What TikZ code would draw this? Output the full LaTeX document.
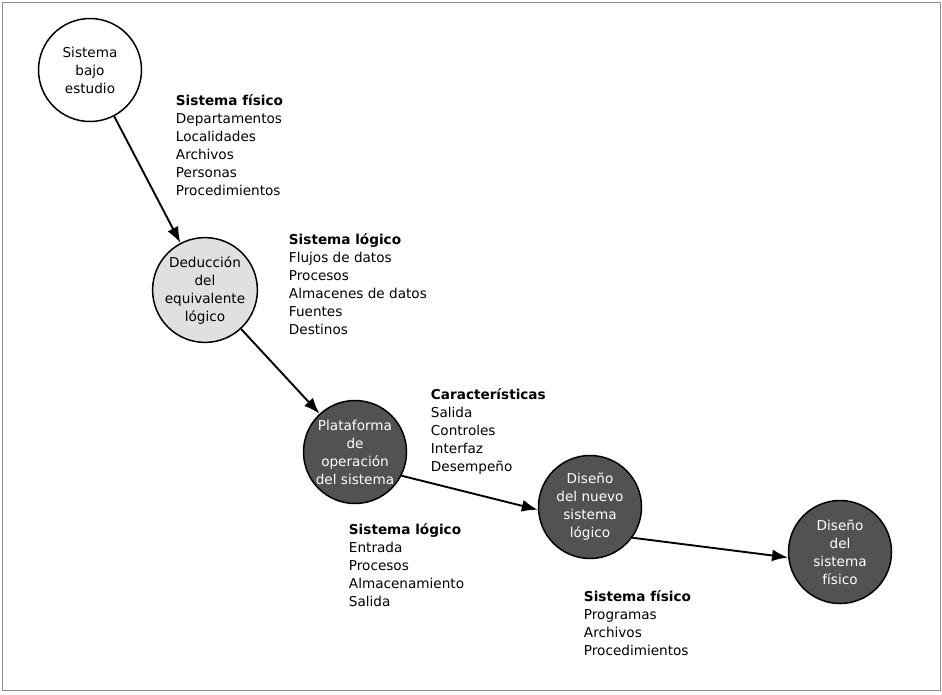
\documentclass[tikz,border=0pt]{standalone}
\usepackage{fontspec}
\setsansfont{DejaVu Sans}
\usetikzlibrary{arrows.meta}

\def\tamletra{\fontsize{13.6}{18}\selectfont}

\begin{document}
\begin{tikzpicture}[x=1pt,y=-1pt,font=\sffamily\tamletra,line width=1.9pt,>={Latex[length=16pt,width=12pt]}]
    \tikzstyle{etapa}=[circle,draw=black,line width=1.5pt,minimum size=103pt,inner sep=0pt,align=center]
    \tikzstyle{clara}=[etapa,fill=black!12]
    \tikzstyle{oscura}=[etapa,fill=black!68,text=white]
    \tikzstyle{lista}=[anchor=north west,align=left,inner sep=0pt]

    \useasboundingbox (0,0) rectangle (942,694);
    \draw[line width=0.4pt,draw=black!45] (2,2) rectangle (940,690);

    \node[etapa] (estudio) at (90,70) {Sistema\\bajo\\estudio};
    \node[clara] (deduccion) at (205,290) {Deducción\\del\\equivalente\\lógico};
    \node[oscura] (plataforma) at (355,452) {Plataforma\\de\\operación\\del sistema};
    \node[oscura] (nuevo) at (590,507) {Diseño\\del nuevo\\sistema\\lógico};
    \node[oscura] (fisico) at (840,552) {Diseño\\del\\sistema\\físico};

    \node[lista] (lfisico) at (175,94) {\textbf{Sistema físico}\\Departamentos\\Localidades\\Archivos\\Personas\\Procedimientos};
    \node[lista] (llogico) at (288,233) {\textbf{Sistema lógico}\\Flujos de datos\\Procesos\\Almacenes de datos\\Fuentes\\Destinos};
    \node[lista] (lcaract) at (430,388) {\textbf{Características}\\Salida\\Controles\\Interfaz\\Desempeño};
    \node[lista] (lentrada) at (348,523) {\textbf{Sistema lógico}\\Entrada\\Procesos\\Almacenamiento\\Salida};
    \node[lista] (lprog) at (583,590) {\textbf{Sistema físico}\\Programas\\Archivos\\Procedimientos};

    \draw[->] (estudio) -- (deduccion);
    \draw[->] (deduccion) -- (plataforma);
    \draw[->] (plataforma.-27) -- (nuevo.183);
    \draw[->] (nuevo.-36) -- (fisico.186);
\end{tikzpicture}
\end{document}
